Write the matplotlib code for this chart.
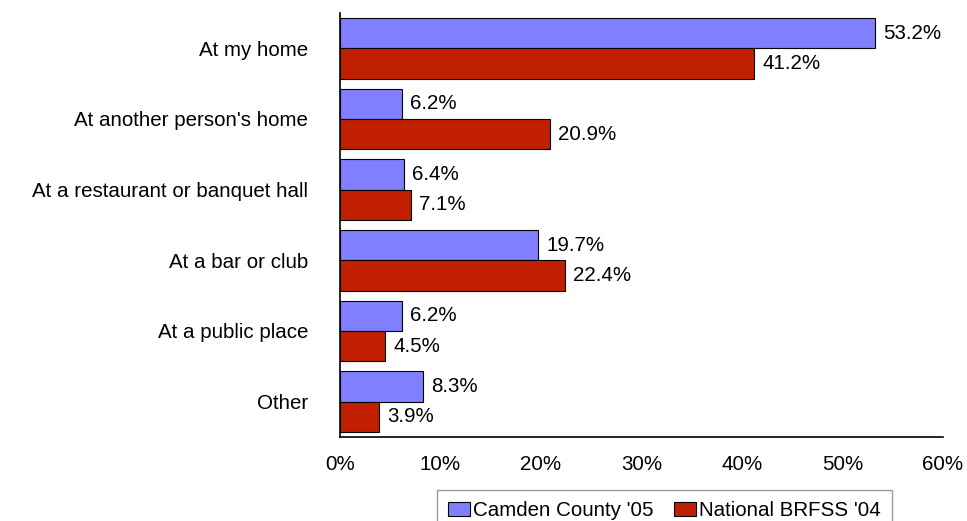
import matplotlib.pyplot as plt
import numpy as np

plt.rcParams['font.family'] = ['Liberation Sans', 'DejaVu Sans']

# data
categories = ["At my home", "At another person's home", "At a restaurant or banquet hall",
              "At a bar or club", "At a public place", "Other"]
camden = [53.2, 6.2, 6.4, 19.7, 6.2, 8.3]
brfss = [41.2, 20.9, 7.1, 22.4, 4.5, 3.9]
series_names = ["Camden County '05", "National BRFSS '04"]
xticks = [0, 10, 20, 30, 40, 50, 60]

fs = 14.8

fig = plt.figure(figsize=(9.67, 5.21), dpi=100)
ax = fig.add_axes([340 / 967, 1 - 437 / 521, (943 - 340) / 967, (437 - 13) / 521])

y = np.arange(len(categories))
h = 0.43
b1 = ax.barh(y - h / 2, camden, height=h, color="#8080FF", edgecolor="black", linewidth=0.8,
             label=series_names[0])
b2 = ax.barh(y + h / 2, brfss, height=h, color="#C01F00", edgecolor="black", linewidth=0.8,
             label=series_names[1])

for bars, vals in [(b1, camden), (b2, brfss)]:
    for bar, v in zip(bars, vals):
        ax.text(v + 0.8, bar.get_y() + bar.get_height() / 2, "%.1f%%" % v,
                va="center", ha="left", fontsize=fs)

ax.set_ylim(len(categories) - 0.5, -0.5)
ax.set_xlim(0, 60)
ax.set_yticks(y)
ax.set_yticklabels(categories, fontsize=fs)
ax.set_xticks(xticks)
ax.set_xticklabels(["%d%%" % t for t in xticks], fontsize=fs)
ax.tick_params(axis="y", length=0, pad=23)
ax.tick_params(axis="x", length=0, pad=13)
ax.spines["top"].set_visible(False)
ax.spines["right"].set_visible(False)
ax.spines["left"].set_linewidth(1.2)
ax.spines["bottom"].set_linewidth(1.2)

leg = fig.legend(loc="upper left", bbox_to_anchor=(437 / 967, 1 - 490 / 521), ncol=2,
                 fontsize=fs, frameon=True, fancybox=False, borderaxespad=0,
                 handlelength=1.05, handleheight=0.63, handletextpad=0.15, columnspacing=1.0,
                 borderpad=0.55)
leg.get_frame().set_edgecolor("#808080")
leg.get_frame().set_linewidth(1.0)

fig.savefig("out.png", dpi=100)
